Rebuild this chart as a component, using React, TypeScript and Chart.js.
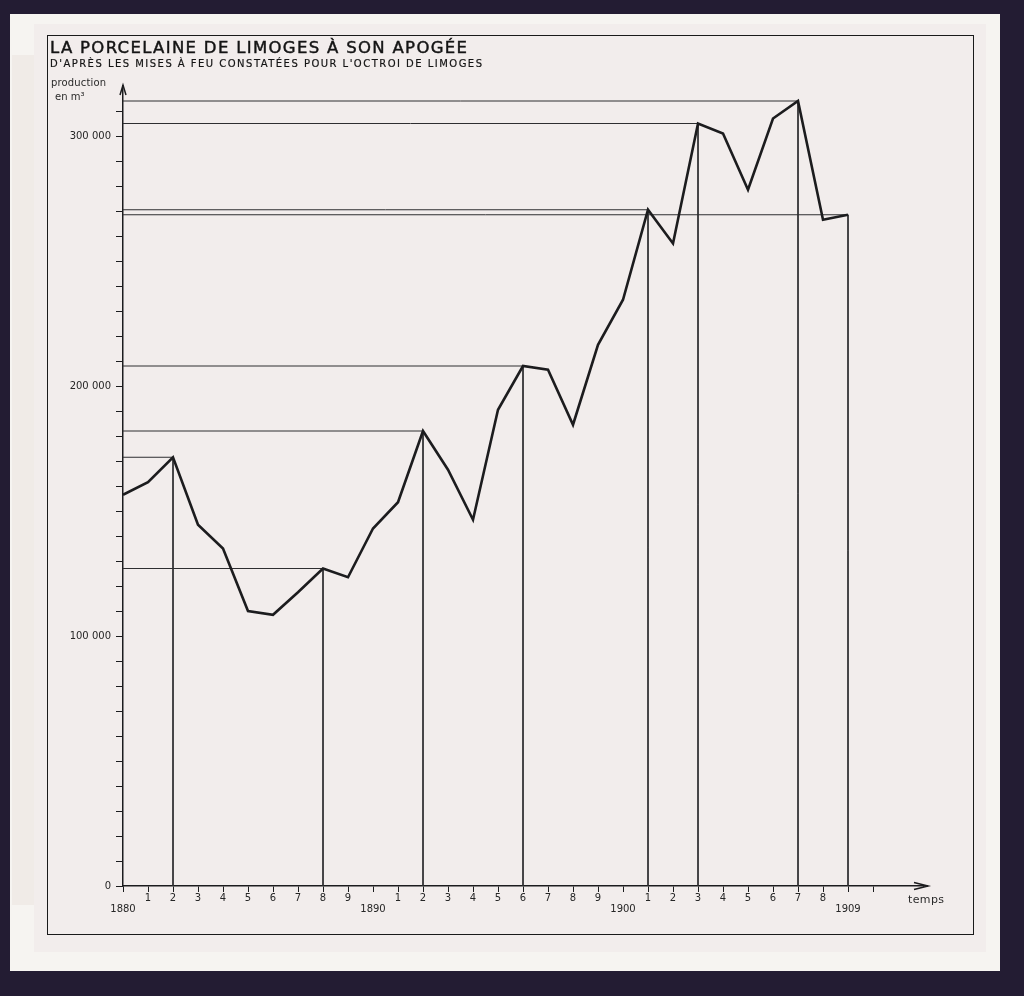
import React, { useEffect, useRef } from "react";
import { Chart, registerables } from "chart.js";

Chart.register(...registerables);

// ---- data ----
const years = [
  1880, 1881, 1882, 1883, 1884, 1885, 1886, 1887, 1888, 1889,
  1890, 1891, 1892, 1893, 1894, 1895, 1896, 1897, 1898, 1899,
  1900, 1901, 1902, 1903, 1904, 1905, 1906, 1907, 1908, 1909,
];
const production = [
  156500, 161500, 171500, 144500, 135000, 110000, 108500, 117500, 127000, 123500,
  143000, 153500, 182000, 166500, 146500, 190500, 208000, 206500, 184500, 216500,
  234500, 270500, 257000, 305000, 301000, 278500, 307000, 314000, 266500, 268500,
];
const highlightedYears = [1882, 1888, 1892, 1896, 1901, 1903, 1907, 1909];
const yTickValues = [0, 100000, 200000, 300000];
const yTickTexts = ["0", "100 000", "200 000", "300 000"];
const longYearValues = [1880, 1890, 1900, 1909];
const longYearTexts = ["1880", "1890", "1900", "1909"];
const lastTickYear = 1910;

const INK = "#1c1c1e";

const arrowPlugin = {
  id: "axisArrows",
  afterDraw(chart: any) {
    const { ctx, chartArea } = chart;
    const { left, top, right, bottom } = chartArea;
    ctx.save();
    ctx.strokeStyle = INK;
    ctx.lineWidth = 1.5;
    ctx.beginPath();
    ctx.moveTo(right, bottom);
    ctx.lineTo(right + 5, bottom);
    ctx.stroke();
    ctx.beginPath();
    ctx.moveTo(right - 9, bottom - 3.5);
    ctx.lineTo(right + 5, bottom);
    ctx.lineTo(right - 9, bottom + 3.5);
    ctx.stroke();
    ctx.beginPath();
    ctx.moveTo(left - 3, top + 9);
    ctx.lineTo(left, top - 1);
    ctx.lineTo(left + 3, top + 9);
    ctx.stroke();
    ctx.restore();
  },
};

export default function App() {
  const canvasRef = useRef<HTMLCanvasElement | null>(null);

  useEffect(() => {
    const canvas = canvasRef.current;
    if (!canvas) return;

    const mainData = years.map((yr, i) => ({ x: yr, y: production[i] }));
    const refSets = highlightedYears.map((yr) => {
      const v = production[years.indexOf(yr)];
      return {
        data: [
          { x: years[0], y: v },
          { x: yr, y: v },
          { x: yr, y: 0 },
        ],
        showLine: true,
        borderColor: "#2e2e30",
        borderWidth: 1,
        pointRadius: 0,
        order: 2,
      };
    });

    const chart = new Chart(canvas, {
      type: "scatter",
      data: {
        datasets: [
          {
            data: mainData,
            showLine: true,
            borderColor: INK,
            borderWidth: 2.6,
            pointRadius: 0,
            borderJoinStyle: "miter",
            order: 1,
          } as any,
          ...refSets,
        ],
      },
      options: {
        responsive: false,
        animation: false,
        events: [],
        layout: { padding: { left: 63, top: 86, right: 101, bottom: 70 } },
        plugins: {
          legend: { display: false },
          tooltip: { enabled: false },
          title: { display: false },
        },
        scales: {
          x: {
            type: "linear",
            min: 1880,
            max: 1912,
            border: { color: INK, width: 1.5 },
            grid: {
              drawOnChartArea: false,
              drawTicks: true,
              tickLength: 6,
              color: INK,
              lineWidth: 1,
            },
            ticks: {
              stepSize: 1,
              autoSkip: false,
              maxRotation: 0,
              padding: 1,
              color: "#262626",
              font: { family: "DejaVu Sans", size: 10, lineHeight: 1.1 },
              callback: (v: any) => {
                const val = Number(v);
                const k = longYearValues.indexOf(val);
                if (k >= 0) return ["", longYearTexts[k]];
                if (val > years[years.length - 1]) return "";
                return String(val % 10);
              },
            },
            afterBuildTicks: (s: any) => {
              s.ticks = s.ticks.filter((t: any) => t.value <= lastTickYear);
            },
            afterFit: (s: any) => {
              s.height = 40;
            },
          },
          y: {
            min: 0,
            max: 320000,
            border: { color: INK, width: 1.5 },
            grid: {
              drawOnChartArea: false,
              drawTicks: true,
              tickLength: 7,
              color: INK,
              lineWidth: 1,
            },
            ticks: {
              stepSize: 10000,
              autoSkip: false,
              padding: 5,
              color: "#262626",
              font: { family: "DejaVu Sans", size: 10 },
              callback: (v: any) => {
                const k = yTickValues.indexOf(Number(v));
                return k >= 0 ? yTickTexts[k] : "";
              },
            },
            afterBuildTicks: (s: any) => {
              s.ticks = s.ticks.filter((t: any) => t.value < 320000);
            },
            afterFit: (s: any) => {
              s.width = 60;
            },
          },
        },
      },
      plugins: [arrowPlugin],
    });

    return () => chart.destroy();
  }, []);

  return (
    <div
      style={{
        position: "fixed",
        left: 0,
        top: 0,
        width: 1024,
        height: 996,
        background: "#231c33",
        overflow: "hidden",
      }}
    >
      <div
        style={{
          position: "absolute",
          left: 10,
          top: 14,
          width: 990,
          height: 957,
          background: "#f6f4f1",
        }}
      />
      <div
        style={{
          position: "absolute",
          left: 12,
          top: 55,
          width: 22,
          height: 850,
          background: "#f0ebe7",
        }}
      />
      <div
        style={{
          position: "absolute",
          left: 34,
          top: 24,
          width: 952,
          height: 928,
          background: "#f2edec",
        }}
      />
      <div
        style={{
          position: "absolute",
          left: 47,
          top: 35,
          width: 927,
          height: 900,
          border: "1.6px solid #1a1a1a",
          boxSizing: "border-box",
        }}
      />
      <canvas
        ref={canvasRef}
        width={1024}
        height={996}
        style={{ position: "absolute", left: 0, top: 0 }}
      />
      <svg
        width={1024}
        height={996}
        style={{ position: "absolute", left: 0, top: 0 }}
        fontFamily="DejaVu Sans"
        fill="#141414"
      >
        <text
          x={50}
          y={53}
          fontSize={16.5}
          textLength={417}
          lengthAdjust="spacing"
          stroke="#141414"
          strokeWidth={0.45}
        >
          LA PORCELAINE DE LIMOGES À SON APOGÉE
        </text>
        <text
          x={50}
          y={67}
          fontSize={10}
          textLength={432}
          lengthAdjust="spacing"
          stroke="#141414"
          strokeWidth={0.2}
        >
          D'APRÈS LES MISES À FEU CONSTATÉES POUR L'OCTROI DE LIMOGES
        </text>
        <text x={51} y={86} fontSize={10} textLength={55} lengthAdjust="spacing" fill="#2a2a2a">
          production
        </text>
        <text x={55} y={100} fontSize={10} fill="#2a2a2a">
          en m³
        </text>
        <text x={908} y={903} fontSize={11} textLength={36} lengthAdjust="spacing" fill="#2a2a2a">
          temps
        </text>
      </svg>
    </div>
  );
}
